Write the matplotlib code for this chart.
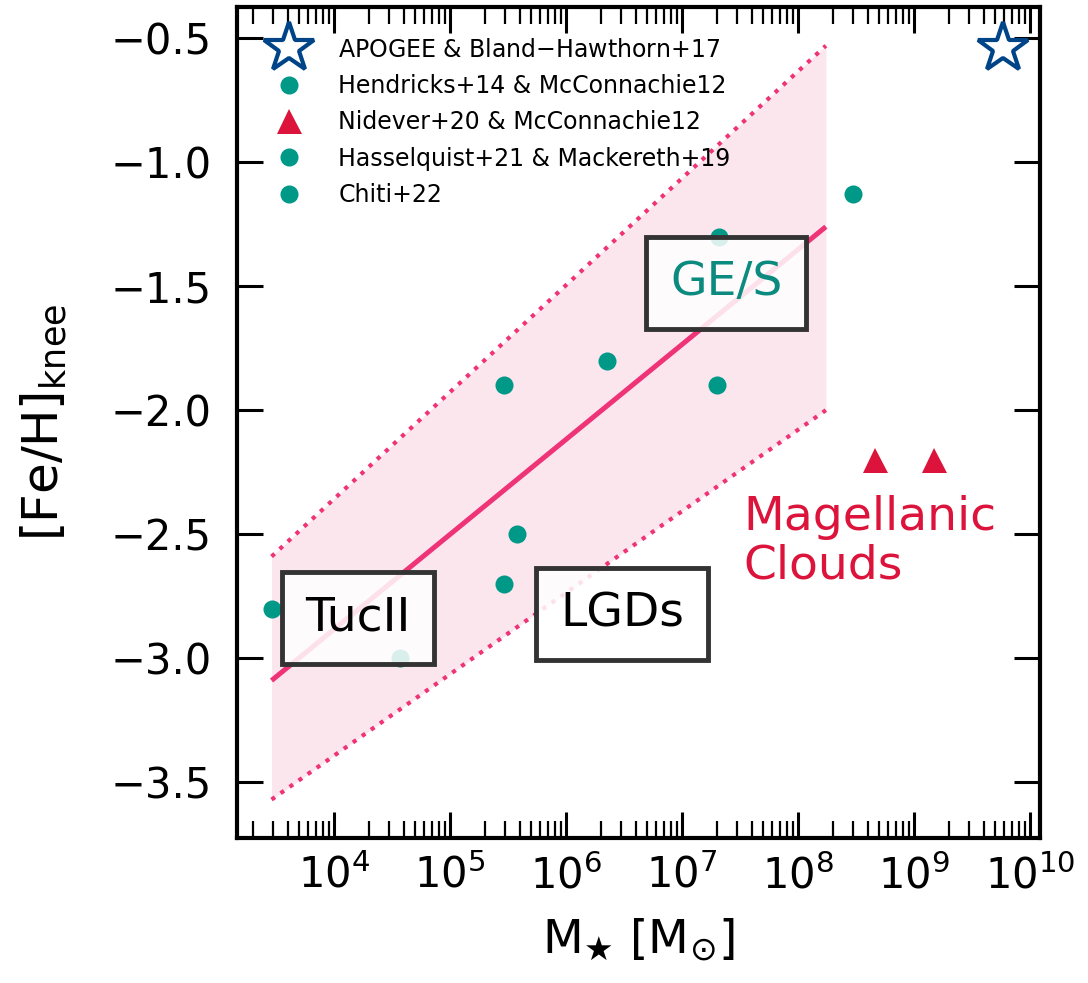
import numpy as np
import matplotlib.pyplot as plt
from matplotlib.ticker import MultipleLocator, LogLocator

plt.rcParams['font.family'] = ['DejaVu Sans']
plt.rcParams['mathtext.fontset'] = 'dejavusans'

# stellar mass [Msun] and knee metallicity for each sample
apogee_mass = [5.8e9]
apogee_feh = [-0.54]

hendricks_mass = [3.7e4, 2.9e5, 2.9e5, 3.8e5, 2.25e6]
hendricks_feh = [-3.0, -1.9, -2.7, -2.5, -1.8]

nidever_mass = [4.6e8, 1.5e9]
nidever_feh = [-2.2, -2.2]

hasselquist_mass = [2.0e7, 2.1e7, 3.0e8]
hasselquist_feh = [-1.9, -1.3, -1.13]

chiti_mass = [2.9e3]
chiti_feh = [-2.8]

# best-fit relation and its band (end points)
fit_mass = [2.9e3, 1.74e8]
fit_feh = [-3.09, -1.26]
band_upper = [-2.59, -0.53]
band_lower = [-3.57, -2.0]

teal = '#009988'
pink = '#EE3377'
crimson = '#DC143C'
navy = '#004488'

fig = plt.figure(figsize=(10.88, 9.83), dpi=100)
ax = fig.add_axes([0.2178, 0.1475, 0.7381, 0.8454])

ax.fill_between(fit_mass, band_lower, band_upper, color=pink, alpha=0.12, lw=0, zorder=1)
ax.plot(fit_mass, fit_feh, color=pink, lw=3.6, solid_capstyle='butt', zorder=2)
ax.plot(fit_mass, band_upper, color=pink, lw=3.0, ls=':', zorder=2)
ax.plot(fit_mass, band_lower, color=pink, lw=3.0, ls=':', zorder=2)

ax.plot(apogee_mass, apogee_feh, ls='none', marker='*', ms=38, mfc='white', mec=navy,
        mew=3.0, label='APOGEE & Bland$-$Hawthorn+17', zorder=4)
ax.plot(hendricks_mass, hendricks_feh, ls='none', marker='o', ms=13, color=teal, mew=0,
        label='Hendricks+14 & McConnachie12', zorder=4)
ax.plot(nidever_mass, nidever_feh, ls='none', marker='^', ms=18, color=crimson, mew=0,
        label='Nidever+20 & McConnachie12', zorder=4)
ax.plot(hasselquist_mass, hasselquist_feh, ls='none', marker='o', ms=13, color=teal, mew=0,
        label='Hasselquist+21 & Mackereth+19', zorder=4)
ax.plot(chiti_mass, chiti_feh, ls='none', marker='o', ms=13, color=teal, mew=0,
        label='Chiti+22', zorder=4)

box = dict(boxstyle='square,pad=0.5', fc=(1, 1, 1, 0.85), ec='#333333', lw=3.5)
ax.text(1.61e4, -2.837, 'TucII', fontsize=34, ha='center', va='center', bbox=box, zorder=6)
ax.text(3.04e6, -2.821, 'LGDs', fontsize=34, ha='center', va='center', bbox=box, zorder=6)
ax.text(2.4e7, -1.487, 'GE/S', fontsize=34, color='#0b8a80', ha='center', va='center',
        bbox=box, zorder=6)
ax.text(3.4e7, -2.53, 'Magellanic\nClouds', fontsize=34, color=crimson, ha='left',
        va='center', linespacing=1.1, zorder=6)

ax.set_xscale('log')
ax.set_xlim(1.46e3, 1.22e10)
ax.set_ylim(-3.725, -0.374)
ax.yaxis.set_major_locator(MultipleLocator(0.5))
ax.xaxis.set_major_locator(LogLocator(base=10, numticks=20))
ax.xaxis.set_minor_locator(LogLocator(base=10, subs=np.arange(2, 10), numticks=20))

ax.tick_params(which='both', direction='in', top=True, right=True, labelsize=30)
ax.tick_params(which='major', length=19, width=2.2)
ax.tick_params(which='minor', length=12, width=1.6)
ax.tick_params(axis='y', pad=18)
ax.tick_params(axis='x', pad=12)
for sp in ax.spines.values():
    sp.set_linewidth(3)

ax.set_xlabel(r'$\mathrm{M}_{\bigstar}\ [\mathrm{M}_{\odot}]$', fontsize=34, labelpad=14)
ax.set_ylabel(r'[Fe/H]$_{\rm knee}$', fontsize=36, labelpad=30)

ax.legend(loc='upper left', frameon=False, fontsize=17, numpoints=1, handlelength=1.8,
          handletextpad=1.2, borderpad=0.4, borderaxespad=0.9, labelspacing=0.52)

fig.savefig('out.png', dpi=100)
